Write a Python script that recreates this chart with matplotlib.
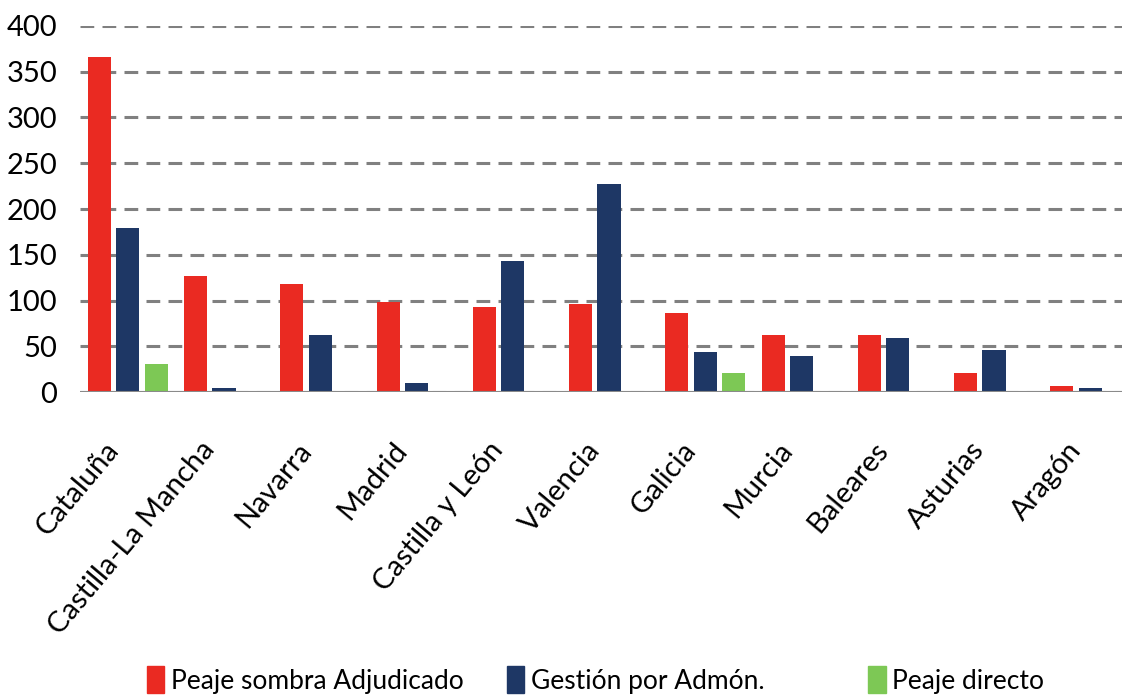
import matplotlib.pyplot as plt
import matplotlib.transforms as mtransforms
from matplotlib.patches import Patch
import numpy as np

# Road km by region and management model
regions = ['Cataluña', 'Castilla-La Mancha', 'Navarra', 'Madrid', 'Castilla y León',
           'Valencia', 'Galicia', 'Murcia', 'Baleares', 'Asturias', 'Aragón']
peaje_sombra = [366, 127, 118, 98, 93, 96, 87, 63, 62, 21, 7]
gestion_admon = [179, 5, 63, 10, 143, 227, 44, 40, 59, 46, 5]
peaje_directo = [31, 0, 0, 0, 0, 0, 21, 0, 0, 0, 0]

series_labels = ['Peaje sombra Adjudicado', 'Gestión por Admón.', 'Peaje directo']
colors = ['#EA2A22', '#1E3765', '#7DC855']

plt.rcParams['font.family'] = ['Lato', 'DejaVu Sans']

fig = plt.figure(figsize=(11.22, 6.98), dpi=100)
ax = fig.add_axes([0.071, 0.438, 0.935, 0.525])

x = np.arange(len(regions))
width = 0.24
step = 0.295
for i, (vals, lab, col) in enumerate(zip([peaje_sombra, gestion_admon, peaje_directo],
                                          series_labels, colors)):
    ax.bar(x + (i - 1) * step, vals, width, color=col, label=lab, zorder=3)

ax.set_ylim(0, 400)
ax.set_xlim(-0.5, len(regions) - 0.6)
ax.set_yticks(range(0, 401, 50))
ax.yaxis.grid(True, linestyle=(0, (4.5, 2.7)), color='#808080', linewidth=2.2, zorder=0)
ax.axhline(0, color='#8a8a8a', linewidth=1.5, zorder=4)
for s in ax.spines.values():
    s.set_visible(False)
ax.tick_params(axis='both', length=0, labelsize=21)
ax.tick_params(axis='y', pad=16)
ax.set_xticks(x)
ax.set_xticklabels(regions, rotation=50, ha='right', rotation_mode='anchor', fontsize=21)

# nudge the slanted labels down and left
shift = mtransforms.ScaledTranslation(-0.24, -0.40, fig.dpi_scale_trans)
for lbl in ax.get_xticklabels():
    lbl.set_transform(lbl.get_transform() + shift)

# legend entries placed one by one along the bottom
for lab, col, xpos in zip(series_labels, colors, [0.131, 0.452, 0.774]):
    fig.legend(handles=[Patch(color=col, label=lab)], loc='center left',
               bbox_to_anchor=(xpos, 0.026), frameon=False, fontsize=19,
               handlelength=0.65, handleheight=1.2, handletextpad=0.25,
               borderpad=0, borderaxespad=0)

fig.savefig('out.png', dpi=100, facecolor='white')
